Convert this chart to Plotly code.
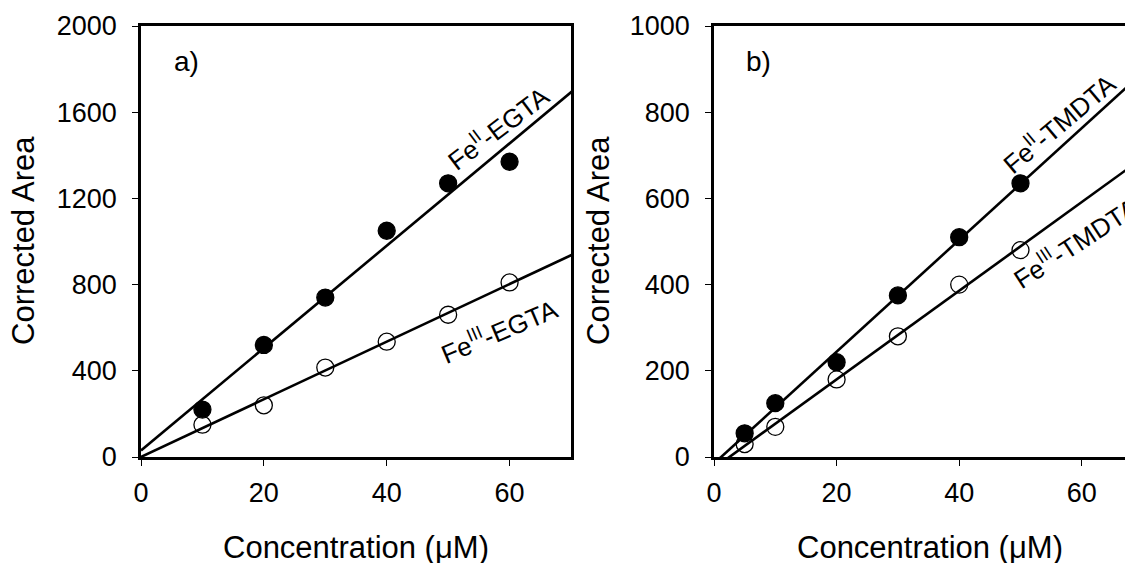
import numpy as np
import plotly.graph_objects as go

# ---- data ----
conc_a = [10, 20, 30, 40, 50, 60]
fe2_egta = [220, 520, 740, 1050, 1270, 1370]
fe3_egta = [150, 240, 415, 535, 660, 810]

conc_b = [5, 10, 20, 30, 40, 50]
fe2_tmdta = [55, 125, 220, 375, 510, 635]
fe3_tmdta = [30, 70, 180, 280, 400, 480]

yticks_a = [0, 400, 800, 1200, 1600, 2000]
yticks_b = [0, 200, 400, 600, 800, 1000]
xticks = [0, 20, 40, 60]

W, H = 1133, 563
OFF = 8  # page body margin
FONT = "Liberation Sans, Arial, sans-serif"

def px(x):
    return (x - OFF) / W

def py(y):
    return 1 - (y - OFF) / H

fig = go.Figure()

def add_series(xs, ys, filled, xa, ya):
    coef = np.polyfit(xs, ys, 1)
    lx = np.array([0.0, 72.0])
    fig.add_trace(go.Scatter(x=lx, y=np.polyval(coef, lx), mode="lines",
                             line=dict(color="black", width=2.6),
                             xaxis=xa, yaxis=ya, showlegend=False, hoverinfo="skip"))
    fig.add_trace(go.Scatter(x=xs, y=ys, mode="markers", cliponaxis=False,
                             marker=dict(size=17, symbol="circle",
                                         color="black" if filled else "rgba(255,255,255,0)",
                                         line=dict(color="black", width=1.3)),
                             xaxis=xa, yaxis=ya, showlegend=False))

add_series(conc_a, fe2_egta, True, "x", "y")
add_series(conc_a, fe3_egta, False, "x", "y")
add_series(conc_b, fe2_tmdta, True, "x2", "y2")
add_series(conc_b, fe3_tmdta, False, "x2", "y2")

ydom = [py(457), py(26)]
axis_common = dict(showgrid=False, zeroline=False, showline=True, linecolor="black",
                   linewidth=2.6, ticks="outside", ticklen=6, tickwidth=1.3,
                   automargin=False,
                   tickcolor="black", tickfont=dict(family=FONT, size=27, color="black"))

b_right_screen = W + OFF
fig.update_layout(
    template="none",
    width=W, height=H,
    margin=dict(l=0, r=0, t=0, b=0, pad=0),
    paper_bgcolor="white", plot_bgcolor="white",
    xaxis=dict(domain=[px(141), px(571)], range=[0, 70], tickvals=xticks,
               mirror=True, anchor="y", ticklabelstandoff=4, **axis_common),
    yaxis=dict(domain=ydom, range=[0, 2000], tickvals=yticks_a,
               mirror=True, anchor="x", ticklabelstandoff=10, **axis_common),
    xaxis2=dict(domain=[px(714), 1], range=[0, (b_right_screen - 714) / 6.13], tickvals=xticks,
                mirror=True, anchor="y2", ticklabelstandoff=4, **axis_common),
    yaxis2=dict(domain=ydom, range=[0, 1000], tickvals=yticks_b,
                mirror=True, anchor="x2", ticklabelstandoff=10, **axis_common),
)

ann = []
def A(text, x, y, size=27, angle=0):
    ann.append(dict(text=text, x=px(x), y=py(y), xref="paper", yref="paper",
                    xanchor="center", yanchor="middle", showarrow=False,
                    textangle=angle, font=dict(family=FONT, size=size, color="black")))

A("a)", 186, 61, 28)
A("b)", 758, 61, 28)
A("Fe<sup>II</sup>-EGTA", 498, 128, 26, -37)
A("Fe<sup>III</sup>-EGTA", 499, 330, 26, -23)
A("Fe<sup>II</sup>-TMDTA", 1058, 123, 26, -40)
A("Fe<sup>III</sup>-TMDTA", 1075, 242, 26, -33)
A("Corrected Area", 24, 241, 31, -90)
A("Corrected Area", 599, 241, 31, -90)
A("Concentration (μM)", 356, 547, 31)
A("Concentration (μM)", 930, 547, 31)
fig.update_layout(annotations=ann)

fig.write_html("out.html")
